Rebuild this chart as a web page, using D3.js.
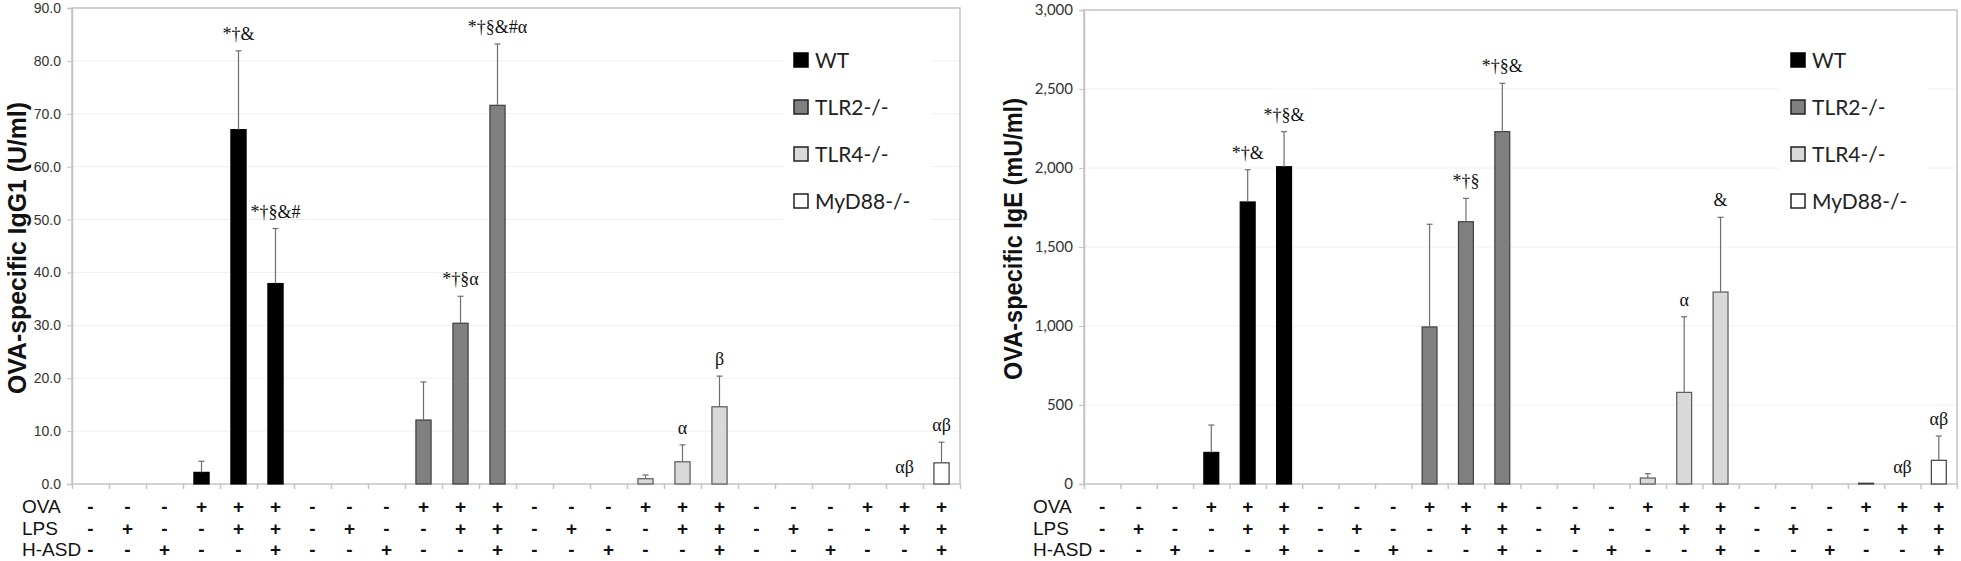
<!DOCTYPE html>
<html>
<head>
<meta charset="utf-8">
<script src="https://cdn.jsdelivr.net/npm/d3@7/dist/d3.min.js"></script>
<style>
  body { margin: 0; background: #fff; }
</style>
</head>
<body>
<svg id="chart" width="1961" height="561"></svg>
<script>
// strains and the group each of the 24 columns belongs to
const strains = ["WT", "TLR2-/-", "TLR4-/-", "MyD88-/-"];
const strainOf = [0, 0, 0, 0, 0, 0, 1, 1, 1, 1, 1, 1, 2, 2, 2, 2, 2, 2, 3, 3, 3, 3, 3, 3];

// treatment table under the x axis
const rowLabels = ["OVA", "LPS", "H-ASD"];
const ovaSigns  = ["-", "-", "-", "+", "+", "+", "-", "-", "-", "+", "+", "+", "-", "-", "-", "+", "+", "+", "-", "-", "-", "+", "+", "+"];
const lpsSigns  = ["-", "+", "-", "-", "+", "+", "-", "+", "-", "-", "+", "+", "-", "+", "-", "-", "+", "+", "-", "+", "-", "-", "+", "+"];
const hasdSigns = ["-", "-", "+", "-", "-", "+", "-", "-", "+", "-", "-", "+", "-", "-", "+", "-", "-", "+", "-", "-", "+", "-", "-", "+"];

// left panel: OVA-specific IgG1 (U/ml)
const igg1Means  = [0, 0, 0, 2.2, 67.0, 37.9, 0, 0, 0, 12.1, 30.4, 71.6, 0, 0, 0, 1.0, 4.2, 14.6, 0, 0, 0, 0, 0, 4.0];
const igg1Errors = [0, 0, 0, 2.1, 14.9, 10.4, 0, 0, 0, 7.2, 5.1, 11.6, 0, 0, 0, 0.7, 3.2, 5.8, 0, 0, 0, 0, 0, 3.9];
const igg1Marks  = ["", "", "", "", "*†&", "*†§&#", "", "", "", "", "*†§α", "*†§&#α", "", "", "", "", "α", "β", "", "", "", "", "αβ", "αβ"];
const igg1Ticks  = [0, 10, 20, 30, 40, 50, 60, 70, 80, 90];

// right panel: OVA-specific IgE (mU/ml)
const igeMeans  = [0, 0, 0, 200, 1785, 2008, 0, 0, 0, 994, 1660, 2230, 0, 0, 0, 38, 580, 1215, 0, 0, 0, 5, 0, 150];
const igeErrors = [0, 0, 0, 173, 204, 222, 0, 0, 0, 650, 148, 306, 0, 0, 0, 27, 479, 473, 0, 0, 0, 0, 0, 154];
const igeMarks  = ["", "", "", "", "*†&", "*†§&", "", "", "", "", "*†§", "*†§&", "", "", "", "", "α", "&", "", "", "", "", "αβ", "αβ"];
const igeTicks  = [0, 500, 1000, 1500, 2000, 2500, 3000];

const fills   = ["#000000", "#808080", "#d9d9d9", "#ffffff"];
const strokes = ["#000000", "#3f3f3f", "#595959", "#3f3f3f"];

const svg = d3.select("#chart");

function drawChart(opt) {
    const g = svg.append("g");
    const n = opt.means.length;
    const cols = d3.range(n);

    const x = d3.scaleBand().domain(cols).range([opt.left, opt.right])
        .paddingInner(0.59).paddingOuter(0.295);
    const y = d3.scaleLinear().domain([0, opt.yMax]).range([opt.bottom, opt.top]);
    const xEdge = d3.scaleLinear().domain([0, n]).range([opt.left, opt.right]);
    const cx = function (i) { return x(i) + x.bandwidth() / 2; };

    // faint gridlines
    g.append("g").selectAll("line").data(opt.ticks.slice(1, -1)).enter().append("line")
        .attr("x1", opt.left).attr("x2", opt.right)
        .attr("y1", function (d) { return y(d); }).attr("y2", function (d) { return y(d); })
        .attr("stroke", "#f0f0f0");

    // legend background hides the gridlines behind it
    g.append("rect")
        .attr("x", opt.right - 177).attr("y", 38)
        .attr("width", 148).attr("height", 190)
        .attr("fill", "#fff");

    // frame
    g.append("rect")
        .attr("x", opt.left).attr("y", opt.top)
        .attr("width", opt.right - opt.left).attr("height", opt.bottom - opt.top)
        .attr("fill", "none").attr("stroke", "#c4c4c4").attr("stroke-width", 1.5);

    // y axis
    const yAxis = g.append("g")
        .attr("transform", "translate(" + opt.left + ",0)")
        .call(d3.axisLeft(y).tickValues(opt.ticks).tickFormat(opt.fmt).tickSize(5).tickPadding(6));
    yAxis.select(".domain").attr("stroke", "#c4c4c4").attr("stroke-width", 1.5);
    yAxis.selectAll(".tick line").attr("stroke", "#c4c4c4");
    yAxis.selectAll(".tick text")
        .attr("fill", "#333").style("font-family", opt.tickFont).style("font-size", opt.tickSize);

    // x axis tick marks between columns
    const xAxis = g.append("g")
        .attr("transform", "translate(0," + opt.bottom + ")")
        .call(d3.axisBottom(xEdge).tickValues(d3.range(n + 1)).tickFormat("").tickSize(5));
    xAxis.select(".domain").remove();
    xAxis.selectAll(".tick line").attr("stroke", "#c4c4c4").attr("stroke-width", 1.5);

    // bars
    g.append("g").selectAll("rect").data(cols.filter(function (i) { return opt.means[i] > 0; }))
        .enter().append("rect")
        .attr("x", function (i) { return x(i); })
        .attr("y", function (i) { return y(opt.means[i]); })
        .attr("width", x.bandwidth())
        .attr("height", function (i) { return opt.bottom - y(opt.means[i]); })
        .attr("fill", function (i) { return fills[strainOf[i]]; })
        .attr("stroke", function (i) { return strokes[strainOf[i]]; })
        .attr("stroke-width", 1.2);

    // upper error bars
    const errs = g.append("g").selectAll("g").data(cols.filter(function (i) { return opt.errors[i] > 0; }))
        .enter().append("g").attr("stroke", "#6e6e6e").attr("stroke-width", 1.2);
    errs.append("line")
        .attr("x1", cx).attr("x2", cx)
        .attr("y1", function (i) { return y(opt.means[i]); })
        .attr("y2", function (i) { return y(opt.means[i] + opt.errors[i]); });
    errs.append("line")
        .attr("x1", function (i) { return cx(i) - 3; }).attr("x2", function (i) { return cx(i) + 3; })
        .attr("y1", function (i) { return y(opt.means[i] + opt.errors[i]); })
        .attr("y2", function (i) { return y(opt.means[i] + opt.errors[i]); });

    // significance marks
    g.append("g").selectAll("text").data(cols.filter(function (i) { return opt.marks[i] !== ""; }))
        .enter().append("text")
        .attr("x", cx)
        .attr("y", function (i) { return y(opt.means[i] + opt.errors[i]) - 11; })
        .attr("text-anchor", "middle")
        .style("font-family", "'Liberation Serif', 'Times New Roman', serif")
        .style("font-size", "18px")
        .attr("fill", "#111")
        .text(function (i) { return opt.marks[i]; });

    // y label
    g.append("text")
        .attr("transform", "translate(" + opt.labelX + "," + opt.labelY + ") rotate(-90)")
        .attr("text-anchor", "middle")
        .attr("dy", "0.35em")
        .attr("textLength", opt.labelLength)
        .attr("lengthAdjust", "spacingAndGlyphs")
        .style("font-family", "'Liberation Sans', Arial, sans-serif")
        .style("font-weight", "bold")
        .style("font-size", "25px")
        .attr("fill", "#111")
        .text(opt.title);

    // treatment table
    const rows = [ovaSigns, lpsSigns, hasdSigns];
    const rowY = [506, 528, 549];
    rows.forEach(function (signs, r) {
        g.append("text")
            .attr("x", opt.tableX).attr("y", rowY[r]).attr("dy", "0.35em")
            .style("font-family", "'Liberation Sans', Arial, sans-serif")
            .style("font-size", "19px").attr("fill", "#111")
            .text(rowLabels[r]);
        g.append("g").selectAll("text").data(cols).enter().append("text")
            .attr("x", cx).attr("y", rowY[r]).attr("dy", "0.35em")
            .attr("text-anchor", "middle")
            .style("font-family", "'Liberation Sans', Arial, sans-serif")
            .style("font-size", "19px").style("font-weight", "bold").attr("fill", "#111")
            .text(function (i) { return signs[i]; });
    });

    // legend
    const leg = g.append("g").selectAll("g").data(strains).enter().append("g")
        .attr("transform", function (d, k) { return "translate(" + (opt.right - 166) + "," + (60 + k * 47) + ")"; });
    leg.append("rect")
        .attr("x", 0).attr("y", -7).attr("width", 14).attr("height", 14)
        .attr("fill", function (d, k) { return fills[k]; })
        .attr("stroke", function (d, k) { return k === 0 ? "#000" : "#222"; })
        .attr("stroke-width", 1.5);
    leg.append("text")
        .attr("x", 21).attr("y", 0).attr("dy", "0.36em")
        .style("font-family", "Lato, 'Open Sans', sans-serif")
        .style("font-size", "21px").attr("fill", "#222")
        .text(function (d) { return d; });
}

drawChart({
    left: 72, right: 960, top: 8, bottom: 484,
    yMax: 90, ticks: igg1Ticks, fmt: d3.format(".1f"),
    tickFont: "'Liberation Sans', Arial, sans-serif", tickSize: "14px",
    means: igg1Means, errors: igg1Errors, marks: igg1Marks,
    title: "OVA-specific IgG1 (U/ml)", labelX: 17, labelY: 248, labelLength: 292,
    tableX: 22
});

drawChart({
    left: 1084, right: 1957, top: 10, bottom: 484,
    yMax: 3000, ticks: igeTicks, fmt: d3.format(","),
    tickFont: "Lato, 'Open Sans', sans-serif", tickSize: "15px",
    means: igeMeans, errors: igeErrors, marks: igeMarks,
    title: "OVA-specific IgE (mU/ml)", labelX: 1013, labelY: 239, labelLength: 282,
    tableX: 1033
});
</script>
</body>
</html>
